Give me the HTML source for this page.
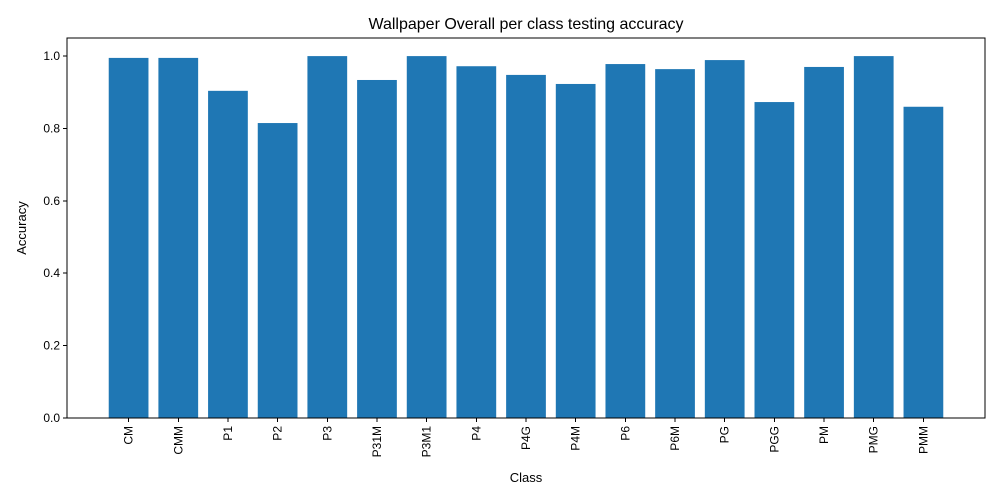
<!DOCTYPE html>
<html><head><meta charset="utf-8"><style>
body{margin:0;background:#fff;}
svg{display:block;font-family:"Liberation Sans","DejaVu Sans",sans-serif;}
</style></head><body>
<svg id="chart" width="1000" height="500">
<rect width="1000" height="500" fill="#fff"/>
<text x="526" y="29" font-size="16" text-anchor="middle">Wallpaper Overall per class testing accuracy</text>
<g id="bars"></g><g id="axes" shape-rendering="crispEdges"></g>
<text x="526" y="482" font-size="13" text-anchor="middle">Class</text>
<text x="26" y="228" font-size="13" text-anchor="middle" transform="rotate(-90 26 228)">Accuracy</text>
</svg>
<script>
const categories=["CM","CMM","P1","P2","P3","P31M","P3M1","P4","P4G","P4M","P6","P6M","PG","PGG","PM","PMG","PMM"];
const values=[0.995,0.995,0.904,0.815,1.0,0.934,1.0,0.972,0.948,0.923,0.978,0.964,0.989,0.873,0.97,1.0,0.86];
const yTicks=[0,0.2,0.4,0.6,0.8,1.0];
const yTickLabels=["0.0","0.2","0.4","0.6","0.8","1.0"];
const L=67,R=985,T=38,B=418;
const n=categories.length;
const xmin=-0.4-0.05*(n-1+0.8),xmax=n-1+0.4+0.05*(n-1+0.8);
const ymax=1.05;
const x=v=>L+(v-xmin)/(xmax-xmin)*(R-L);
const y=v=>B-v/ymax*(B-T);
const NS="http://www.w3.org/2000/svg";
const bars=document.getElementById('bars'),axes=document.getElementById('axes');
function mk(tag,attrs,parent){const e=document.createElementNS(NS,tag);for(const k in attrs)e.setAttribute(k,attrs[k]);parent.appendChild(e);return e;}
values.forEach((v,i)=>{
 const r=mk('rect',{x:x(i-0.4),y:y(v),width:x(i+0.4)-x(i-0.4),height:B-y(v),fill:'#1f77b4'},bars);
 
 
 mk('line',{x1:x(i),x2:x(i),y1:B,y2:B+4,stroke:'#000','stroke-width':1},axes);
 const t=mk('text',{x:0,y:0,'font-size':12,'text-anchor':'end',transform:`translate(${x(i)+4},${B+8}) rotate(-90)`},axes);
 t.textContent=categories[i];
 
 
});
yTicks.forEach((v,i)=>{
 mk('line',{x1:L-4,x2:L,y1:y(v),y2:y(v),stroke:'#000','stroke-width':1},axes);
 const t=mk('text',{x:L-7,y:y(v)+4,'font-size':12,'text-anchor':'end'},axes);
 t.textContent=yTickLabels[i];
 
 
});
const f=mk('rect',{x:L,y:T,width:R-L,height:B-T,fill:'none',stroke:'#000','stroke-width':1},axes);


</script>
</body></html>
